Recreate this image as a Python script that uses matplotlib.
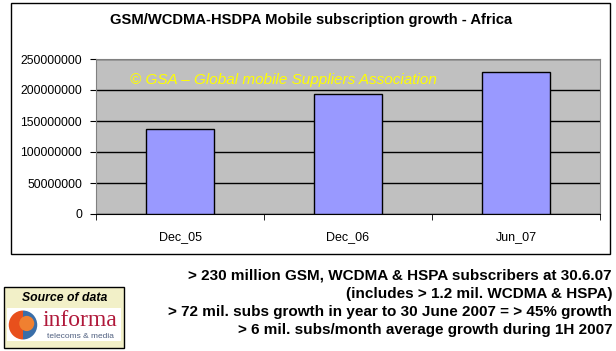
import matplotlib
matplotlib.use("Agg")
import matplotlib.pyplot as plt
from matplotlib.patches import Rectangle, Circle, Wedge

# --- DATOS ---
categorias = ["Dec_05", "Dec_06", "Jun_07"]
suscriptores = [136700000, 193200000, 228600000]
y_ticks = [0, 50000000, 100000000, 150000000, 200000000, 250000000]

titulo = "GSM/WCDMA-HSDPA Mobile subscription growth - Africa"
marca = "\u00a9 GSA \u2013 Global mobile Suppliers Association"
notas = [
    "> 230 million GSM, WCDMA & HSPA subscribers at 30.6.07",
    "(includes > 1.2 mil. WCDMA & HSPA)",
    "> 72 mil. subs growth in year to 30 June 2007 = > 45% growth",
    "> 6 mil. subs/month average growth during 1H 2007",
]

W, H = 616, 351
plt.rcParams['font.family'] = ['Liberation Sans', 'DejaVu Sans']

fig = plt.figure(figsize=(W / 100, H / 100), dpi=100)
fig.patch.set_facecolor('white')

# marco del grafico (estilo Excel)
fig.add_artist(Rectangle((11 / W, 1 - 254 / H), 599 / W, 251 / H,
                         transform=fig.transFigure, fill=False,
                         edgecolor='black', linewidth=1))

fig.text(311 / W, 1 - 20 / H, titulo, ha='center', va='center',
         fontsize=10.6, fontweight='bold')

ax = fig.add_axes([96 / W, 1 - 214 / H, 504 / W, 155 / H])
ax.set_facecolor('#C0C0C0')

x = range(len(categorias))
ax.bar(x, suscriptores, width=0.405, color='#9999FF',
       edgecolor='black', linewidth=1, zorder=3)

ax.set_xlim(-0.5, len(categorias) - 0.5)
ax.set_ylim(0, 250000000)
ax.set_yticks(y_ticks)
ax.set_yticklabels([str(v) for v in y_ticks], fontsize=8.7)
ax.grid(axis='y', color='black', linewidth=1, zorder=1)
ax.set_axisbelow(True)

ax.set_xticks(list(x))
ax.set_xticklabels(categorias, fontsize=9)
ax.tick_params(axis='x', which='major', length=0, pad=12)
ax.set_xticks([i - 0.5 for i in range(len(categorias) + 1)], minor=True)
ax.tick_params(axis='x', which='minor', length=4, direction='out', color='black')
ax.tick_params(axis='y', length=4, direction='out', color='black', pad=6)

for s in ['top', 'right', 'left']:
    ax.spines[s].set_color('#808080')
ax.spines['bottom'].set_color('black')

ax.text(0.067, 0.865, marca, transform=ax.transAxes, color='#FFFF00',
        fontsize=11, style='italic', va='center', zorder=4)

# --- NOTAS ---
for i, linea in enumerate(notas):
    fig.text(612 / W, 1 - (276 + i * 18) / H, linea, ha='right', va='center',
             fontsize=11, fontweight='bold')

# --- LOGO informa ---
fig.add_artist(Rectangle((4 / W, 1 - 348 / H), 120 / W, 61 / H,
                         transform=fig.transFigure, facecolor='#F2F0C8',
                         edgecolor='black', linewidth=1))
fig.add_artist(Rectangle((7 / W, 1 - 341 / H), 114 / W, 33 / H,
                         transform=fig.transFigure, facecolor='white',
                         edgecolor='none'))
fig.text(65 / W, 1 - 298 / H, "Source of data", ha='center', va='center',
         fontsize=8.8, style='italic', fontweight='bold')
lax = fig.add_axes([8 / W, 1 - 341 / H, 30 / W, 32 / H])
lax.set_zorder(5)
lax.set_xlim(-1, 1)
lax.set_ylim(-1.05, 1.05)
lax.axis('off')
lax.add_patch(Wedge((0, 0), 0.95, 90, 270, facecolor='#E8501C'))
lax.add_patch(Wedge((0, 0), 0.95, 270, 90, facecolor='#3A6EA8'))
lax.add_patch(Circle((0.25, 0.1), 0.5, facecolor='#F08030'))
fig.text(80 / W, 1 - 321 / H, "informa", ha='center', va='center',
         fontsize=17, color='#B0183A', family=['Liberation Serif', 'DejaVu Serif'])
fig.text(80 / W, 1 - 337 / H, "telecoms & media", ha='center', va='center',
         fontsize=6, color='#506080')

fig.savefig("out.png", dpi=100)
